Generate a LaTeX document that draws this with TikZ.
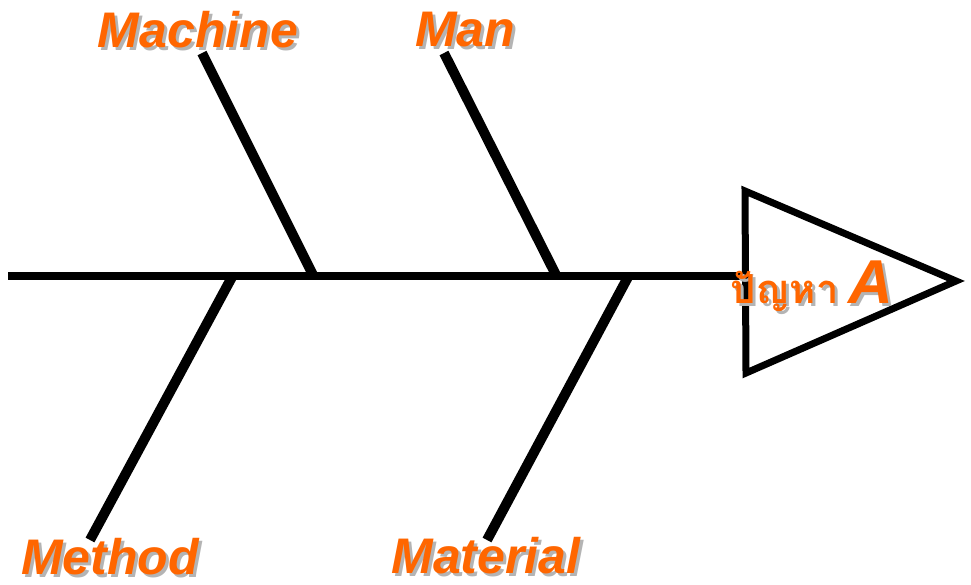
\documentclass[tikz,border=0pt]{standalone}
\usepackage{fontspec}
\setmainfont{Liberation Sans}
\newfontfamily\thaifont[Script=Thai]{Loma}
\definecolor{lblorange}{HTML}{FF6600}
\definecolor{lblshadow}{HTML}{B4B4B4}
\tikzset{
  bone/.style={line width=10pt, line cap=butt},
  spine/.style={line width=8pt},
  head/.style={line width=7pt, line join=miter},
  lbl/.style={text=lblorange, font=\fontsize{50}{50}\selectfont\bfseries\itshape, inner sep=0pt},
  lblsh/.style={text=lblshadow, font=\fontsize{50}{50}\selectfont\bfseries\itshape, inner sep=0pt},
  thai/.style={font=\fontsize{40}{40}\selectfont\thaifont\bfseries},
  big/.style={font=\fontsize{62}{62}\selectfont\bfseries\itshape},
}
\newcommand{\shlabel}[3]{%
  \node[lblsh] at ([xshift=3pt,yshift=-3pt]#2) {#3};
  \node[lbl] (#1) at (#2) {#3};}
\begin{document}
\begin{tikzpicture}[x=1pt,y=-1pt]
\useasboundingbox (0,0) rectangle (971,584);
% spine
\coordinate (tail) at (8,276);
\coordinate (headL) at (745,276);
\draw[spine] (tail) -- (headL);
% head triangle
\coordinate (h1) at (745,191);
\coordinate (h2) at (746,373);
\coordinate (h3) at (956,281);
\draw[head] (h1) -- (h3) -- (h2) -- cycle;
% bones
\coordinate (mcA) at (202,53);  \coordinate (mcB) at (313,275);
\coordinate (mnA) at (444,53);  \coordinate (mnB) at (556,275);
\coordinate (mtA) at (90,540);  \coordinate (mtB) at (232,277);
\coordinate (maA) at (487,540); \coordinate (maB) at (628,277);
\draw[bone] (mcA) -- (mcB);
\draw[bone] (mnA) -- (mnB);
\draw[bone] (mtA) -- (mtB);
\draw[bone] (maA) -- (maB);
% labels
\shlabel{machine}{198,30}{Machine}
\shlabel{man}{465,30}{Man}
\shlabel{method}{110,557}{Method}
\shlabel{material}{486,556}{Material}
\node[lblsh, thai, anchor=base west] at (733,306) {ปัญหา};
\node[lbl, thai, anchor=base west] (prob) at (730,303) {ปัญหา};
\node[lblsh, big, anchor=base west] at (851,306) {A};
\node[lbl, big, anchor=base west] (probA) at (848,303) {A};
\end{tikzpicture}
\end{document}
